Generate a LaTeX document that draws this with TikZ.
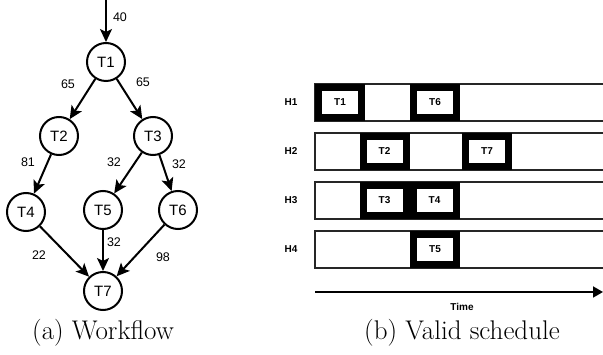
\documentclass[tikz,border=0pt]{standalone}
\usepackage{fontspec}
\usetikzlibrary{arrows.meta}
\newfontfamily\helv{Liberation Sans}
\tikzset{
  task/.style={circle,draw,line width=2pt,minimum size=38pt,inner sep=0pt,font=\helv\fontsize{15}{17}\selectfont},
  dep/.style={line width=2pt,-{Stealth[length=13pt,width=12pt,inset=3pt]}},
  wlab/.style={font=\helv\fontsize{12.5}{14}\selectfont,inner sep=0pt},
  slot/.style={draw=black,fill=white,line width=7pt,minimum width=43pt,minimum height=30pt,inner sep=0pt,font=\helv\bfseries\fontsize{10}{12}\selectfont},
  host/.style={font=\helv\bfseries\fontsize{10}{12}\selectfont,inner sep=0pt},
  row/.style={line width=1.2pt,draw=black!85},
  subcap/.style={font=\fontsize{27}{31}\selectfont,inner sep=0pt}
}
\begin{document}
\begin{tikzpicture}[x=1pt,y=-1pt]
    \useasboundingbox (0,0) rectangle (603,355);
    % workflow
    \coordinate (in) at (106,0);
    \node[task] (T1) at (106,62) {T1};
    \node[task] (T2) at (59,136) {T2};
    \node[task] (T3) at (153,136) {T3};
    \node[task] (T4) at (26,212) {T4};
    \node[task] (T5) at (103,210) {T5};
    \node[task] (T6) at (178,210) {T6};
    \node[task] (T7) at (103,291) {T7};
    \draw[dep] (in) -- (T1);
    \draw[dep] (T1) -- (T2);
    \draw[dep] (T1) -- (T3);
    \draw[dep] (T2) -- (T4);
    \draw[dep] (T3) -- (T5);
    \draw[dep] (T3) -- (T6);
    \draw[dep] (T4) -- (T7);
    \draw[dep] (T5) -- (T7);
    \draw[dep] (T6) -- (T7);
    \node[wlab] (w0) at (120,17) {40};
    \node[wlab] (w12) at (68,84) {65};
    \node[wlab] (w13) at (143,82) {65};
    \node[wlab] (w24) at (28,162) {81};
    \node[wlab] (w35) at (114,162) {32};
    \node[wlab] (w36) at (179,164) {32};
    \node[wlab] (w47) at (39,255) {22};
    \node[wlab] (w57) at (114,242) {32};
    \node[wlab] (w67) at (163,257) {98};
    \node[subcap] (capa) at (103,333) {(a) Workflow};
    % schedule
    \foreach \i/\y in {1/102.5,2/151.5,3/200.5,4/249.5} {
      \node[host] (H\i) at (291,\y) {H\i};
      \draw[row] (604,\y-18.5) -- (315,\y-18.5) -- (315,\y+18.5) -- (604,\y+18.5);
    }
    \node[slot] (s1) at (340,102.5) {T1};
    \node[slot] (s6) at (435,102.5) {T6};
    \node[slot] (s2) at (384.5,151.5) {T2};
    \node[slot] (s7) at (487,151.5) {T7};
    \node[slot] (s3) at (384.5,200.5) {T3};
    \node[slot] (s4) at (434.5,200.5) {T4};
    \node[slot] (s5) at (435,249.5) {T5};
    \coordinate (t0) at (315,292);
    \coordinate (t1) at (603,292);
    \draw[line width=1.8pt,-{Triangle[length=10pt,width=11pt]}] (t0) -- (t1);
    \node[host] (time) at (462,307) {Time};
    \node[subcap] (capb) at (462,333) {(b) Valid schedule};
\end{tikzpicture}
\end{document}
